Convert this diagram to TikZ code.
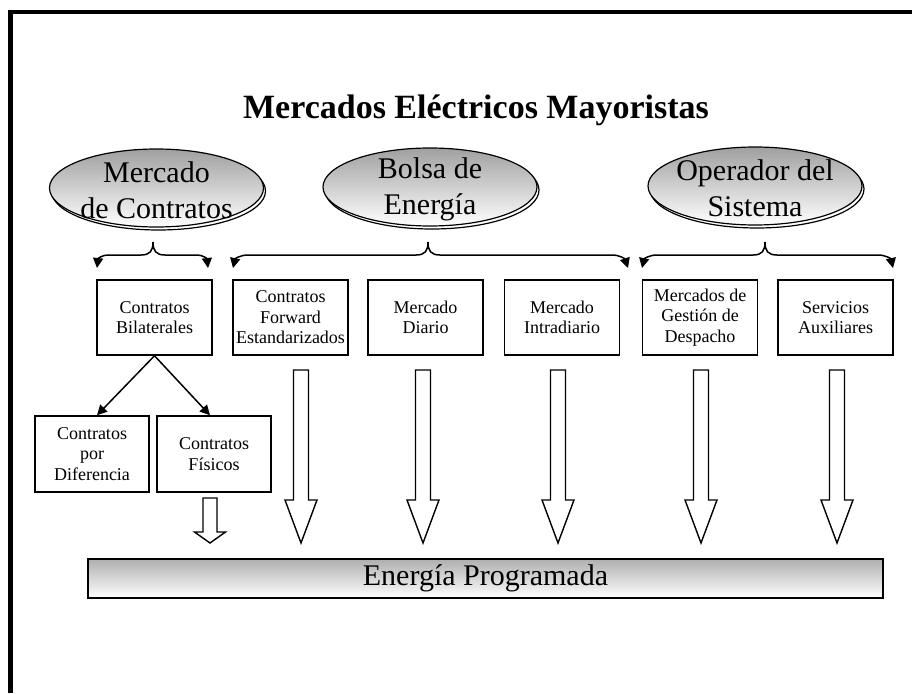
\documentclass[tikz,border=0pt]{standalone}
\usepackage{fontspec}
\setmainfont{Liberation Serif}
\usetikzlibrary{shapes.geometric,arrows.meta,calc}
\definecolor{ovaltop}{RGB}{160,160,160}
\definecolor{bartop}{RGB}{175,175,175}
\begin{document}
\begin{tikzpicture}[x=1pt,y=-1pt,
  oval/.style={ellipse, draw, line width=1.2pt, minimum width=214pt,
    minimum height=78pt, inner sep=0pt},
  market/.style={oval, top color=ovaltop, bottom color=white},
  ovalshadow/.style={oval, fill=white},
  ovaltext/.style={align=center, inner sep=0pt,
    font=\fontsize{30}{36}\selectfont},
  box/.style={draw, line width=1.5pt, minimum width=115pt,
    minimum height=75pt, inner sep=0pt, align=center,
    font=\fontsize{18}{20.5}\selectfont},
  bar/.style={draw, line width=1.8pt, minimum width=795pt,
    minimum height=39pt, inner sep=0pt, top color=bartop,
    bottom color=white, font=\fontsize{30}{34}\selectfont},
  branch/.style={line width=1.5pt, -{Triangle[length=10pt,width=10pt]}},
  feed/.style={line width=1.4pt, fill=white, line join=miter},
  frame/.style={line width=4.3pt, line join=miter}
]
\useasboundingbox (0,0) rectangle (912,693);

% outer frame (open on the right and at the bottom)
\draw[frame] (10.5,693) -- (10.5,12.2) -- (912,12.2);

% title
\node[font=\bfseries\fontsize{34}{40}\selectfont] (title) at (476,110)
  {Mercados Eléctricos Mayoristas};

% the three market operators
\coordinate (c1) at (156.5,188);
\coordinate (c2) at (430,187);
\coordinate (c3) at (755,186);
\foreach \c in {c1,c2,c3}
  \node[ovalshadow] at ([shift={(2,3)}]\c) {};
\node[market] (mc) at (c1) {};
\node[market] (be) at (c2) {};
\node[market] (os) at (c3) {};
\node[ovaltext] (mct) at ([yshift=-2pt]mc.center) {Mercado\\de Contratos};
\node[ovaltext] (bet) at ([yshift=-2pt]be.center) {Bolsa de\\Energía};
\node[ovaltext] (ost) at ([yshift=-2pt]os.center) {Operador del\\Sistema};

% first row of markets
\node[box] (bil) at (154.5,317.5) {Contratos\\Bilaterales};
\node[box] (fwd) at (290.5,317.5) {Contratos\\Forward\\Estandarizados};
\node[box] (dia) at (425.5,317.5) {Mercado\\Diario};
\node[box] (intra) at (562,317.5) {Mercado\\Intradiario};
\node[box] (ges) at (700,317.5) {Mercados de\\Gestión de\\Despacho};
\node[box] (aux) at (835.5,317.5) {Servicios\\Auxiliares};

% bilateral contracts split
\node[box, minimum width=114pt, minimum height=76pt] (dif) at (92,454)
  {Contratos\\por\\Diferencia};
\node[box, minimum width=114pt, minimum height=76pt] (fis) at (214,454)
  {Contratos\\Físicos};

% scheduled energy
\node[bar] (prog) at (485.5,578.5) {Energía Programada};

% brace connectors below each operator
\coordinate (k1) at (153,242);
\coordinate (k2) at (428,242);
\coordinate (k3) at (765,242);
\coordinate (k1l) at (97,268);  \coordinate (k1r) at (208,268);
\coordinate (k2l) at (233,268); \coordinate (k2r) at (628,268);
\coordinate (k3l) at (642,268); \coordinate (k3r) at (893,268);

\draw[branch] (k1) .. controls (153,251) and (150,255) .. (141,255)
  -- (109,255) .. controls (101,255) and (98,259) .. (k1l);
\draw[branch] (k1) .. controls (153,251) and (156,255) .. (165,255)
  -- (196,255) .. controls (204,255) and (207,259) .. (k1r);
\draw[branch] (k2) .. controls (428,251) and (425,255) .. (416,255)
  -- (248,255) .. controls (240,255) and (235,259) .. (k2l);
\draw[branch] (k2) .. controls (428,251) and (431,255) .. (440,255)
  -- (612,255) .. controls (620,255) and (625,259) .. (k2r);
\draw[branch] (k3) .. controls (765,251) and (762,255) .. (753,255)
  -- (657,255) .. controls (649,255) and (644,259) .. (k3l);
\draw[branch] (k3) .. controls (765,251) and (768,255) .. (777,255)
  -- (878,255) .. controls (886,255) and (891,259) .. (k3r);

% bilateral split arrows
\draw[branch] (bil.south) -- ($(dif.north)+(5,0)$);
\draw[branch] (bil.south) -- ($(fis.north)+(-4,0)$);

% hollow arrows feeding the scheduled energy
\foreach \x in {301,423,558,701,837}
  \draw[feed] (\x-7.5,370) -- (\x-7.5,500) -- (\x-16,500) -- (\x,543)
    -- (\x+16,500) -- (\x+7.5,500) -- (\x+7.5,370) -- cycle;
\draw[feed] (203,498) -- (203,532) -- (194.5,532) -- (210,543)
  -- (225.5,532) -- (217,532) -- (217,498) -- cycle;
\end{tikzpicture}
\end{document}
